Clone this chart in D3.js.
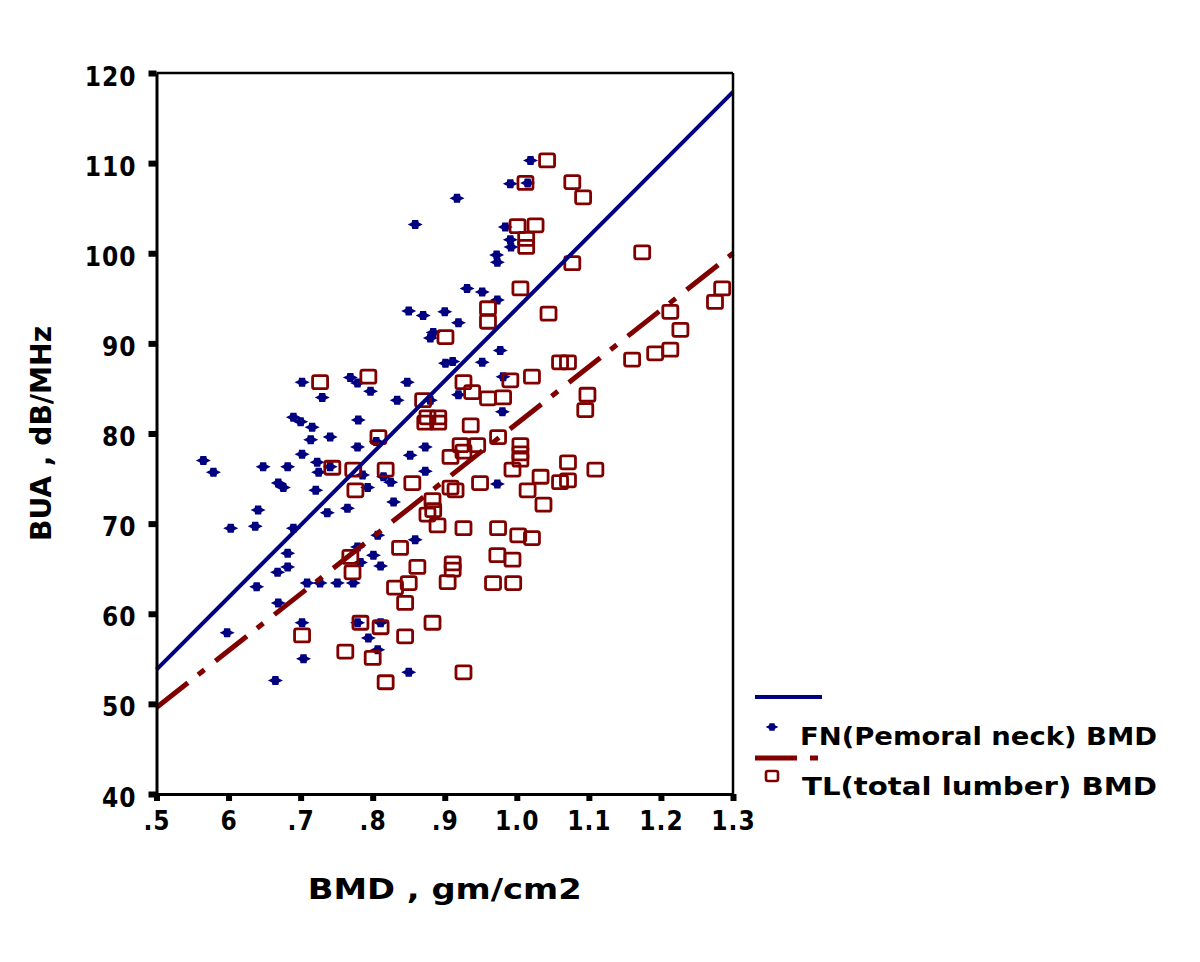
<!DOCTYPE html>
<html>
<head>
<meta charset="utf-8">
<script src="https://cdn.jsdelivr.net/npm/d3@7"></script>
<style>
  body { margin: 0; background: #fff; }
  svg { display: block; }
  .tick text { font-family: "DejaVu Sans Condensed", "DejaVu Sans", sans-serif; font-weight: bold; font-size: 26px; fill: #000; letter-spacing: 1px; }
  .lbl { font-family: "DejaVu Sans Condensed", "DejaVu Sans", sans-serif; font-weight: bold; fill: #000; }
</style>
</head>
<body>
<svg></svg>
<script>
// FN (femoral neck) BMD vs BUA
let fnBMD = [1.019, 0.991, 1.015, 0.917, 0.859, 0.984, 0.991, 0.992, 0.972, 0.973,
  0.931, 0.952, 0.973, 0.850, 0.870, 0.900, 0.919, 0.884, 0.880, 0.977,
  0.901, 0.911, 0.952, 0.981, 0.702, 0.769, 0.779, 0.797, 0.848, 0.730,
  0.834, 0.880, 0.919, 0.980, 0.690, 0.700, 0.716, 0.741, 0.714, 0.780,
  0.779, 0.805, 0.565, 0.579, 0.648, 0.682, 0.669, 0.676, 0.721, 0.702,
  0.723, 0.725, 0.741, 0.786, 0.793, 0.815, 0.852, 0.873, 0.873, 0.829,
  0.765, 0.737, 0.641, 0.637, 0.603, 0.690, 0.682, 0.682, 0.668, 0.639,
  0.669, 0.709, 0.727, 0.751, 0.773, 0.779, 0.783, 0.801, 0.811, 0.807,
  0.859, 0.779, 0.702, 0.811, 0.794, 0.807, 0.704, 0.850, 0.665, 0.598,
  0.973, 0.825]
let fnBUA = [110.3, 107.7, 107.8, 106.1, 103.2, 102.9, 101.5, 100.7, 99.8, 99.0,
  96.1, 95.7, 94.8, 93.6, 93.1, 93.5, 92.3, 91.2, 90.6, 89.2,
  87.8, 88.0, 87.9, 86.3, 85.7, 86.2, 85.6, 84.7, 85.7, 84.0,
  83.7, 83.7, 84.3, 82.4, 81.8, 81.3, 80.7, 79.6, 79.3, 81.5,
  78.5, 79.1, 77.0, 75.7, 76.3, 76.3, 74.5, 74.0, 73.7, 77.7,
  76.8, 75.7, 76.3, 75.4, 74.0, 75.2, 77.6, 78.5, 75.8, 72.4,
  71.7, 71.2, 71.5, 69.7, 69.5, 69.5, 66.7, 65.2, 64.6, 63.0,
  61.2, 63.4, 63.4, 63.4, 63.4, 67.4, 65.7, 66.5, 65.3, 68.7,
  68.2, 59.0, 59.0, 59.0, 57.3, 56.0, 55.0, 53.5, 52.6, 57.9,
  74.4, 74.6]

// TL (total lumbar) BMD vs BUA
let tlBMD = [1.042, 1.012, 1.077, 1.092, 1.001, 1.026, 1.013, 1.013, 1.077, 1.174,
  1.005, 0.960, 0.960, 1.044, 0.901, 1.285, 1.275, 1.213, 1.227, 1.160,
  1.192, 1.213, 1.060, 1.071, 1.021, 1.098, 1.095, 0.926, 0.938, 0.960,
  0.981, 0.991, 0.936, 0.922, 0.945, 0.926, 0.974, 1.005, 1.005, 1.005,
  0.994, 0.949, 0.915, 1.015, 1.033, 1.060, 1.071, 1.071, 1.109, 1.037,
  0.926, 0.974, 1.002, 1.021, 0.973, 0.994, 0.967, 0.995, 0.926, 0.873,
  0.891, 0.808, 0.744, 0.773, 0.818, 0.776, 0.855, 0.908, 0.908, 0.883,
  0.884, 0.876, 0.890, 0.838, 0.862, 0.850, 0.831, 0.769, 0.772, 0.845,
  0.783, 0.811, 0.883, 0.904, 0.702, 0.762, 0.845, 0.800, 0.818, 0.727,
  0.794, 0.870, 0.876, 0.891, 0.911, 0.911]
let tlBUA = [110.3, 107.8, 107.9, 106.2, 103.0, 103.1, 101.6, 100.7, 98.9, 100.1,
  96.1, 93.9, 92.4, 93.3, 90.7, 96.1, 94.6, 93.5, 91.5, 88.2,
  88.9, 89.3, 87.9, 87.9, 86.3, 84.3, 82.6, 85.7, 84.6, 83.9,
  84.0, 85.9, 80.9, 78.7, 78.7, 78.0, 79.6, 78.7, 77.8, 77.1,
  76.0, 74.5, 73.7, 73.7, 75.2, 74.6, 74.8, 76.8, 76.0, 72.1,
  69.5, 69.5, 68.7, 68.4, 66.5, 66.0, 63.4, 63.4, 53.5, 81.2,
  81.2, 79.6, 76.2, 76.0, 76.0, 73.7, 74.5, 77.4, 74.0, 72.6,
  71.5, 71.0, 69.8, 67.3, 65.2, 63.4, 62.9, 66.3, 64.6, 61.2,
  59.0, 58.5, 59.0, 63.5, 57.6, 55.8, 57.5, 55.1, 52.4, 85.7,
  86.3, 83.7, 81.8, 81.8, 65.6, 64.9]

// fit lines, end points [BMD, BUA]
let fnFit = [[0.5, 53.8], [1.3, 117.9]]
let tlFit = [[0.5, 49.6], [1.3, 100.0]]

let xTicks = [0.5, 0.6, 0.7, 0.8, 0.9, 1.0, 1.1, 1.2, 1.3]
let xTickLabels = [".5", "6", ".7", ".8", ".9", "1.0", "1.1", "1.2", "1.3"]
let yTicks = [40, 50, 60, 70, 80, 90, 100, 110, 120]

let legendLabels = ["FN(Pemoral neck) BMD", "TL(total lumber) BMD"]

let width = 1200
let height = 962
let pLeft = 156.5, pRight = 733, pTop = 73, pBottom = 794

let blue = "#000080"
let red = "#800000"

let svg = d3.select("svg").attr("width", width).attr("height", height)

let xScale = d3.scaleLinear().domain([0.5, 1.3]).range([pLeft, pRight])
let yScale = d3.scaleLinear().domain([40, 120]).range([pBottom, pTop])

// blue "star" marker
let fnMarker = "M-7.5,0 L-3.5,-2 L-3,-4.5 L3,-4.5 L3.5,-2 L7.5,0 L3.5,2 L3,4.5 L-3,4.5 L-3.5,2 Z"

let fnData = fnBMD.map((d, i) => [d, fnBUA[i]])
let tlData = tlBMD.map((d, i) => [d, tlBUA[i]])

// points
svg.append("g").selectAll("path")
  .data(fnData)
  .enter()
  .append("path")
  .attr("d", fnMarker)
  .attr("transform", (d) => "translate(" + xScale(d[0]) + "," + yScale(d[1]) + ")")
  .attr("fill", blue)

svg.append("g").selectAll("rect")
  .data(tlData)
  .enter()
  .append("rect")
  .attr("x", (d) => xScale(d[0]) - 7.5)
  .attr("y", (d) => yScale(d[1]) - 6.5)
  .attr("width", 15)
  .attr("height", 13)
  .attr("rx", 2)
  .attr("fill", "none")
  .attr("stroke", red)
  .attr("stroke-width", 2.8)

// fit lines
let line = d3.line().x((d) => xScale(d[0])).y((d) => yScale(d[1]))

svg.append("path")
  .attr("d", line(fnFit))
  .attr("fill", "none")
  .attr("stroke", blue)
  .attr("stroke-width", 4)

svg.append("path")
  .attr("d", line(tlFit))
  .attr("fill", "none")
  .attr("stroke", red)
  .attr("stroke-width", 5)
  .attr("stroke-dasharray", "40,13,8,14")

// frame top and right
svg.append("line")
  .attr("x1", pLeft).attr("x2", pRight)
  .attr("y1", yScale(120)).attr("y2", yScale(120))
  .attr("stroke", "#000").attr("stroke-width", 2.5)
svg.append("line")
  .attr("x1", xScale(1.3)).attr("x2", xScale(1.3))
  .attr("y1", pTop).attr("y2", pBottom)
  .attr("stroke", "#000").attr("stroke-width", 2.5)

// axes
let xAxis = d3.axisBottom(xScale)
  .tickValues(xTicks)
  .tickFormat((d, i) => xTickLabels[i])
  .tickSize(7)
  .tickSizeOuter(0)

let yAxis = d3.axisLeft(yScale)
  .tickValues(yTicks)
  .tickFormat(d3.format("d"))
  .tickSize(8)
  .tickSizeOuter(0)
  .tickPadding(12)

let gx = svg.append("g")
  .attr("transform", "translate(0," + pBottom + ")")
  .call(xAxis)
gx.selectAll("text").attr("y", 36).attr("dy", 0)

let gy = svg.append("g")
  .attr("transform", "translate(" + pLeft + ",0)")
  .call(yAxis)
gy.selectAll("text").attr("dy", 12)

svg.selectAll(".domain").attr("stroke", "#000").attr("stroke-width", 3)
svg.selectAll(".tick line").attr("stroke", "#000").attr("stroke-width", 6)

// axis titles
svg.append("text")
  .attr("class", "lbl")
  .attr("x", (pLeft + pRight) / 2)
  .attr("y", 899)
  .attr("text-anchor", "middle")
  .attr("font-size", 28)
  .attr("textLength", 274)
  .attr("lengthAdjust", "spacingAndGlyphs")
  .text("BMD , gm/cm2")

svg.append("text")
  .attr("class", "lbl")
  .attr("transform", "translate(51," + (pTop + pBottom) / 2 + ") rotate(-90)")
  .attr("text-anchor", "middle")
  .attr("font-size", 28)
  .attr("textLength", 215)
  .attr("lengthAdjust", "spacingAndGlyphs")
  .text("BUA , dB/MHz")

// legend
let lg = svg.append("g")
lg.append("line")
  .attr("x1", 755).attr("x2", 822).attr("y1", 697).attr("y2", 697)
  .attr("stroke", blue).attr("stroke-width", 4)
lg.append("path")
  .attr("d", fnMarker)
  .attr("transform", "translate(772,727) scale(0.85)")
  .attr("fill", blue)
lg.append("text")
  .attr("class", "lbl")
  .attr("x", 800).attr("y", 745)
  .attr("font-size", 25)
  .attr("textLength", 357)
  .attr("lengthAdjust", "spacingAndGlyphs")
  .text(legendLabels[0])

lg.append("line")
  .attr("x1", 755).attr("x2", 797).attr("y1", 758).attr("y2", 758)
  .attr("stroke", red).attr("stroke-width", 5)
lg.append("line")
  .attr("x1", 810).attr("x2", 818).attr("y1", 758).attr("y2", 758)
  .attr("stroke", red).attr("stroke-width", 5)
lg.append("rect")
  .attr("x", 766).attr("y", 771).attr("width", 12).attr("height", 10).attr("rx", 2)
  .attr("fill", "none").attr("stroke", red).attr("stroke-width", 2.6)
lg.append("text")
  .attr("class", "lbl")
  .attr("x", 802).attr("y", 795)
  .attr("font-size", 25)
  .attr("textLength", 355)
  .attr("lengthAdjust", "spacingAndGlyphs")
  .text(legendLabels[1])
</script>
</body>
</html>
